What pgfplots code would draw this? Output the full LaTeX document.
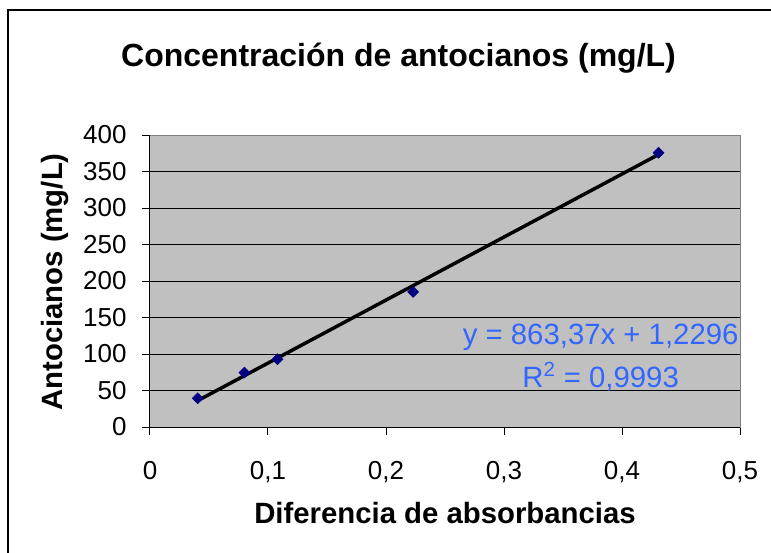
\documentclass[border=0pt]{standalone}
\usepackage{pgfplots}
\pgfplotsset{compat=1.18}
\usepackage{fontspec}
\setmainfont{Liberation Sans}
\definecolor{plotbg}{HTML}{C0C0C0}
\definecolor{navy}{HTML}{000080}
\definecolor{eqblue}{HTML}{3366FF}
\definecolor{frame}{HTML}{808080}
\pgfplotstableread{
x y
0.0404 39.3
0.080 74.5
0.108 92.8
0.223 185.0
0.431 375.7
}\datatable
\pgfplotstableread{
x y
0.0404 36.1
0.431 373.3
}\trendtable
\begin{document}
\begin{tikzpicture}
\useasboundingbox (-112.5pt,-94.5pt) rectangle (465.75pt,320.25pt);
\draw[line width=1.5pt] (-106.5pt,-94.5pt) -- (-106.5pt,312.75pt) -- (465.75pt,312.75pt);
\begin{axis}[
  scale only axis, width=442.5pt, height=219pt,
  xmin=0, xmax=0.5, ymin=0, ymax=400,
  xtick={0,0.1,0.2,0.3,0.4,0.5}, ytick={0,50,...,400},
  axis background/.style={fill=plotbg},
  ymajorgrids, major grid style={black, line width=0.75pt},
  axis line style={draw=frame, line width=0.75pt},
  tick align=outside, major tick length=6pt,
  tick style={black, line width=0.75pt},
  xtick pos=left, ytick pos=left,
  tick label style={font=\fontsize{19.5}{22}\selectfont},
  /pgf/number format/assume math mode=true,
  /pgf/number format/use comma,
  x tick label style={/pgf/number format/fixed, /pgf/number format/precision=1, anchor=base, yshift=-33pt},
  y tick label style={anchor=east, xshift=-8pt},
  clip=false,
]
\addplot[black, line width=2.6pt] table[x=x,y=y] {\trendtable};
\addplot[only marks, mark=square*, mark size=2.9pt, mark options={fill=navy, draw=navy, rotate=45}] table[x=x,y=y] {\datatable};
\draw[black, line width=0.75pt] (rel axis cs:0,1) -- (rel axis cs:0,0) -- (rel axis cs:1,0);
\end{axis}
\node[anchor=base, font=\fontsize{24}{28}\selectfont\bfseries] at (186.4pt,270.4pt) {Concentración de antocianos (mg/L)};
\node[rotate=90, font=\fontsize{22}{26}\selectfont\bfseries] at (-71.25pt,108.75pt) {Antocianos (mg/L)};
\node[font=\fontsize{22}{26}\selectfont\bfseries] at (221.25pt,-64.5pt) {Diferencia de absorbancias};
\node[anchor=base, text=eqblue, font=\fontsize{22}{26}\selectfont] at (338pt,61.5pt) {y = 863,37x + 1,2296};
\node[anchor=base, text=eqblue, font=\fontsize{22}{26}\selectfont] at (338pt,30pt) {R\textsuperscript{2} = 0,9993};
\end{tikzpicture}
\end{document}
